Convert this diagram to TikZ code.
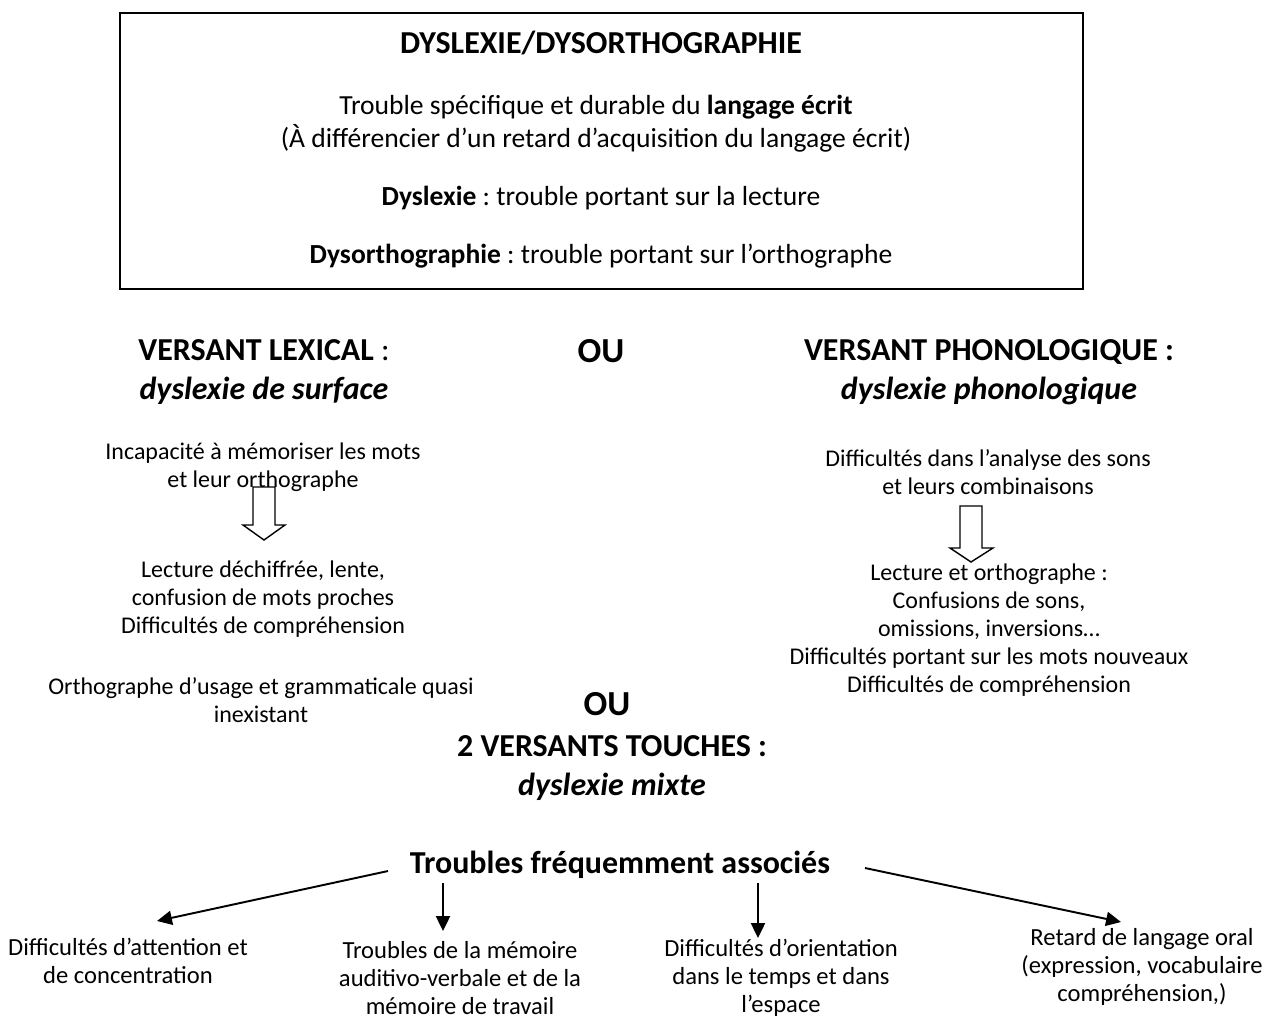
\documentclass[tikz,border=0pt]{standalone}
\usepackage{fontspec}
\setmainfont{Carlito}
\usetikzlibrary{arrows.meta,positioning}
\frenchspacing

\begin{document}
\begin{tikzpicture}[x=0.02cm,y=-0.02cm,
    boxtext/.style={align=center,inner sep=0pt,font=\fontsize{15.7}{18.9}\selectfont},
    coltext/.style={align=center,inner sep=0pt,font=\fontsize{13.65}{15.9}\selectfont},
    bottext/.style={align=center,inner sep=0pt,font=\fontsize{14}{15.9}\selectfont},
    headtext/.style={align=center,inner sep=0pt,font=\fontsize{18.2}{22}\selectfont\bfseries},
    outext/.style={inner sep=0pt,font=\fontsize{20}{24}\selectfont\bfseries},
    link/.style={line width=1.1pt,-{Triangle[length=8.5pt,width=8pt]}},
    hollow/.style={line width=0.8pt,fill=white}]
    \useasboundingbox (0,0) rectangle (1267,1019);

    % Definition box
    \draw[line width=1.1pt] (120,13) rectangle (1083,289);
    \node[headtext,anchor=base] (title) at (601,53) {DYSLEXIE/DYSORTHOGRAPHIE};
    \node[boxtext] (def) at (596,124) {Trouble spécifique et durable du \textbf{langage écrit}\\(À différencier d’un retard d’acquisition du langage écrit)};
    \node[boxtext,anchor=base] (dyslex) at (601,205) {\textbf{Dyslexie} : trouble portant sur la lecture};
    \node[boxtext,anchor=base] (dysorth) at (601,263) {\textbf{Dysorthographie} : trouble portant sur l’orthographe};

    % Versant lexical
    \node[headtext] (lexical) at (264,372) {VERSANT LEXICAL\textmd{ :}\\\textit{dyslexie de surface}};
    \node[coltext] (lexcause) at (263,467) {Incapacité à mémoriser les mots\\et leur orthographe};
    \node[coltext] (lexlect) at (263,599) {Lecture déchiffrée, lente,\\confusion de mots proches\\Difficultés de compréhension};
    \node[coltext] (lexorth) at (261,700) {Orthographe d’usage et grammaticale quasi\\inexistant};

    % Versant phonologique
    \node[headtext] (phono) at (989,372) {VERSANT PHONOLOGIQUE :\\\textit{dyslexie phonologique}};
    \node[coltext] (phocause) at (988,472) {Difficultés dans l’analyse des sons\\et leurs combinaisons};
    \node[coltext] (pholect) at (989,630) {Lecture et orthographe :\\Confusions de sons,\\omissions, inversions…\\Difficultés portant sur les mots nouveaux\\Difficultés de compréhension};

    % OU / mixte
    \node[outext,anchor=base] (ou1) at (601,362) {OU};
    \node[outext,anchor=base] (ou2) at (607,715) {OU};
    \node[headtext] (mixte) at (612,768) {2 VERSANTS TOUCHES :\\\textit{dyslexie mixte}};

    % Hollow arrows
    \draw[hollow] (253,487) -- (275,487) -- (275,525) -- (285,525) -- (264,540)
        -- (243,525) -- (253,525) -- cycle;
    \draw[hollow] (960,506) -- (982,506) -- (982,548) -- (993,548) -- (971,562)
        -- (950,548) -- (960,548) -- cycle;

    % Associated troubles
    \node[headtext,anchor=base] (assoc) at (620,873) {Troubles fréquemment associés};
    \node[bottext] (attention) at (128,961) {Difficultés d’attention et\\de concentration};
    \node[bottext] (memoire) at (460,978) {Troubles de la mémoire\\auditivo-verbale et de la\\mémoire de travail};
    \node[bottext] (orient) at (781,978) {Difficultés d’orientation\\dans le temps et dans\\l’espace};
    \node[bottext] (oral) at (1142,967) {Retard de langage oral\\(expression, vocabulaire\\compréhension,)};

    \coordinate (a1) at (388,871);
    \coordinate (a2) at (443,883);
    \coordinate (a3) at (758,883);
    \coordinate (a4) at (865,868);
    \coordinate (b1) at (157,921);
    \coordinate (b2) at (443,931);
    \coordinate (b3) at (758,938);
    \coordinate (b4) at (1121,922);
    \draw[link] (a1) -- (b1);
    \draw[link] (a2) -- (b2);
    \draw[link] (a3) -- (b3);
    \draw[link] (a4) -- (b4);
\end{tikzpicture}
\end{document}
